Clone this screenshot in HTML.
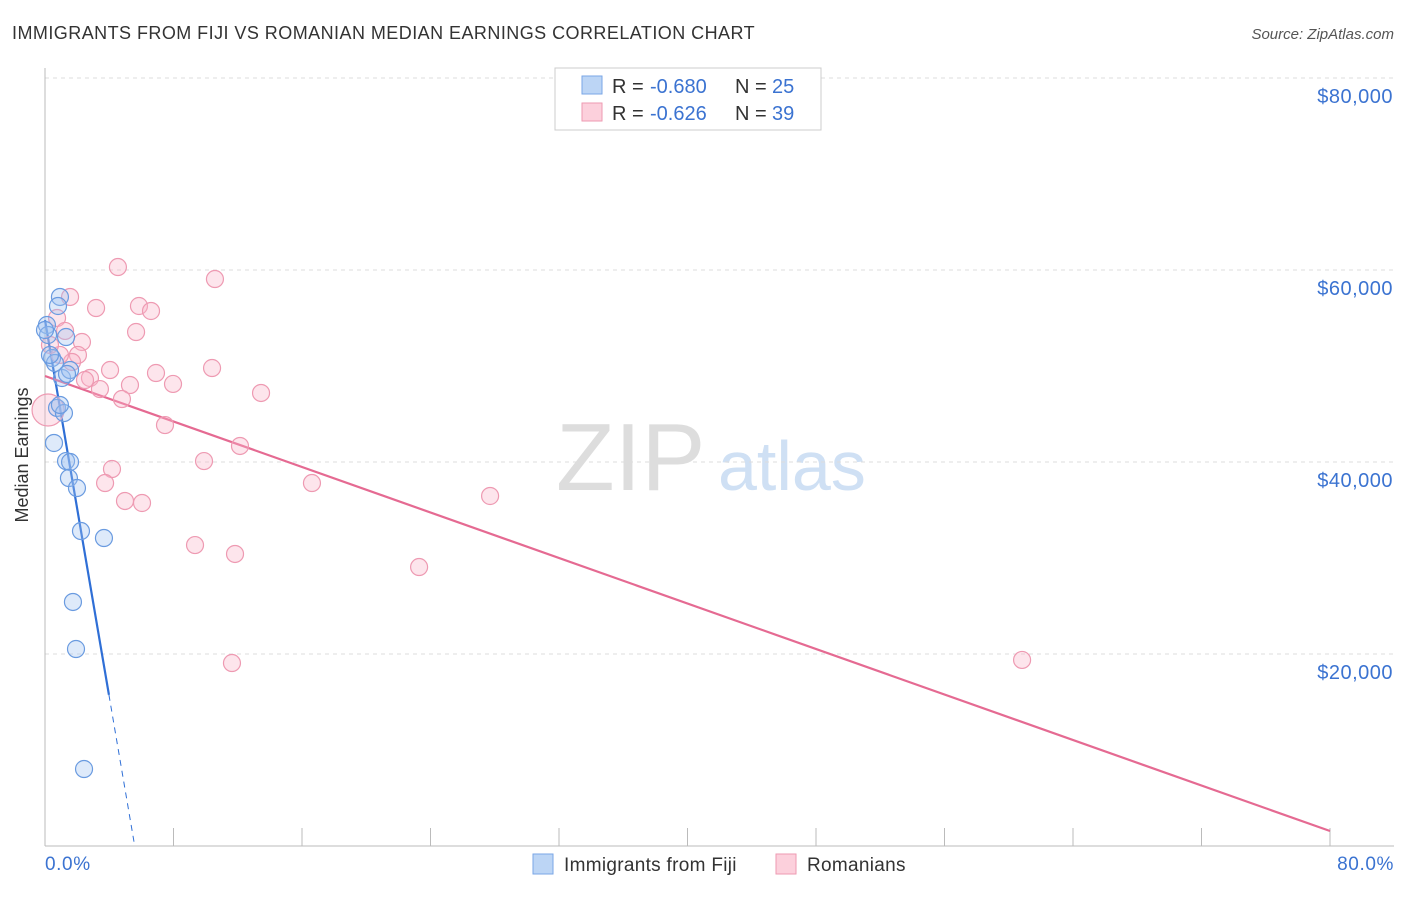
<!DOCTYPE html>
<html><head><meta charset="utf-8"><style>
body{margin:0;background:#fff;font-family:"Liberation Sans",sans-serif;}
svg text{font-family:"Liberation Sans",sans-serif;}
</style></head><body>
<svg width="1406" height="892">
<text x="12" y="39" font-size="18" fill="#333" letter-spacing="0.45">IMMIGRANTS FROM FIJI VS ROMANIAN MEDIAN EARNINGS CORRELATION CHART</text>
<text x="1394" y="39" font-size="15" fill="#555" text-anchor="end" font-style="italic">Source: ZipAtlas.com</text>
<text x="556" y="490" font-size="96" fill="#ddd" font-family="Liberation Serif">ZIP</text>
<text x="718" y="490" font-size="70" fill="#cfe0f4">atlas</text>
<g id="grid"></g>
<line x1="45" y1="68" x2="45" y2="846" stroke="#bbb"/>
<line x1="45" y1="846" x2="1394" y2="846" stroke="#bbb"/>
<text x="28" y="455" font-size="18" fill="#333" text-anchor="middle" transform="rotate(-90 28 455)">Median Earnings</text>
<text x="45" y="870" font-size="19" letter-spacing="0.6" fill="#3b73d1">0.0%</text>
<text x="1394" y="870" font-size="19" letter-spacing="0.6" fill="#3b73d1" text-anchor="end">80.0%</text>
<g id="lines"></g>
<g id="pts"></g>
<g>
<rect x="555" y="68" width="266" height="62" fill="#fff" stroke="#ccc"/>
<rect x="582" y="76" width="20" height="18" fill="#bcd5f5" stroke="#7aa6e6"/>
<text y="93" font-size="20" fill="#333"><tspan x="612">R =</tspan><tspan x="650" fill="#3b73d1">-0.680</tspan><tspan x="735">N =</tspan><tspan x="772" fill="#3b73d1">25</tspan></text>
<rect x="582" y="103" width="20" height="18" fill="#fcd0dc" stroke="#ee9ab2"/>
<text y="120" font-size="20" fill="#333"><tspan x="612">R =</tspan><tspan x="650" fill="#3b73d1">-0.626</tspan><tspan x="735">N =</tspan><tspan x="772" fill="#3b73d1">39</tspan></text>
</g>
<g>
<rect x="533" y="854" width="20" height="20" fill="#bcd5f5" stroke="#7aa6e6"/>
<text x="564" y="871" font-size="19" letter-spacing="0.3" fill="#333">Immigrants from Fiji</text>
<rect x="776" y="854" width="20" height="20" fill="#fcd0dc" stroke="#ee9ab2"/>
<text x="807" y="871" font-size="19" letter-spacing="0.3" fill="#333">Romanians</text>
</g>
</svg>
<script>
const yTicks=[20000,40000,60000,80000];
const yTickLabels=["$20,000","$40,000","$60,000","$80,000"];
const xTicks=[0,8,16,24,32,40,48,56,64,72,80];
const fijiX=[0.93,0.81,0.12,0.19,1.31,0.44,0.62,1.06,1.56,1.37,0.75,1.18,0.56,1.31,1.56,1.49,1.99,2.24,3.67,1.74,1.93,2.43,0.31,0.0,0.93];
const fijiY=[57190,56250,54270,53230,53020,50830,50310,48750,49580,49170,45630,45100,41980,40100,40000,38330,37290,32810,32080,25420,20520,8020,51150,53750,45940];
const romX=[4.54,10.58,1.56,3.18,5.85,6.60,0.75,5.67,1.25,2.30,2.05,1.68,4.05,6.91,10.40,2.80,5.29,7.97,3.42,4.79,13.45,7.47,12.14,4.17,9.90,3.74,16.62,27.71,4.98,6.04,9.34,11.83,23.29,11.64,60.83,0.19,2.49,0.93,0.31];
const romY=[60310,59060,57190,56040,56250,55730,55000,53540,53650,52500,51150,50420,49580,49270,49790,48750,48020,48130,47600,46560,47190,43850,41670,39270,40100,37810,37810,36460,35940,35730,31350,30420,29060,19060,19380,45420,48540,51150,52190];
const fijiTrend=[54790,-9810];
const romTrend=[48960,-592.5];
const NS="http://www.w3.org/2000/svg";
const sx=v=>45+v/80*1285, sy=v=>846-v/20000*192;
function mk(t,a,p){const e=document.createElementNS(NS,t);for(const k in a)e.setAttribute(k,a[k]);p.appendChild(e);return e;}
const grid=document.getElementById('grid');
yTicks.forEach((t,i)=>{
 const l=mk('line',{x1:45,x2:1394,y1:sy(t),y2:sy(t),stroke:'#ddd','stroke-dasharray':'4,4'},grid);
 
 
 const tx=mk('text',{x:1393,y:sy(t)+25,'font-size':20,'letter-spacing':0.5,fill:'#3b73d1','text-anchor':'end'},grid);
 tx.textContent=yTickLabels[i];
 
 
});
mk('line',{x1:45,x2:1394,y1:78,y2:78,stroke:'#ddd','stroke-dasharray':'4,4'},grid);
xTicks.forEach(t=>{
 const l=mk('line',{x1:sx(t),x2:sx(t),y1:828,y2:846,stroke:'#bbb'},grid);
 
 
});
const pts=document.getElementById('pts');
romX.forEach((x,i)=>{
 const c=mk('circle',{cx:sx(x),cy:sy(romY[i]),r:i==35?16:8.5,fill:'rgba(248,180,200,0.35)',stroke:'#ee9ab2','stroke-width':1.2},pts);
 
 
});
fijiX.forEach((x,i)=>{
 const c=mk('circle',{cx:sx(x),cy:sy(fijiY[i]),r:8.5,fill:'rgba(160,195,240,0.35)',stroke:'#6a9be0','stroke-width':1.2},pts);
 
 
});
const lines=document.getElementById('lines');
const fx1=3.98, fx2=-fijiTrend[0]/fijiTrend[1];
let l=mk('line',{x1:sx(0),y1:sy(fijiTrend[0]),x2:sx(fx1),y2:sy(fijiTrend[0]+fijiTrend[1]*fx1),stroke:'#2f6fd6','stroke-width':2.2},lines);


l=mk('line',{x1:sx(fx1),y1:sy(fijiTrend[0]+fijiTrend[1]*fx1),x2:sx(fx2),y2:sy(0),stroke:'#2f6fd6','stroke-width':1,'stroke-dasharray':'6,5'},lines);


l=mk('line',{x1:sx(0),y1:sy(romTrend[0]),x2:sx(80),y2:sy(romTrend[0]+romTrend[1]*80),stroke:'#e56a92','stroke-width':2.2},lines);


</script>
</body></html>
